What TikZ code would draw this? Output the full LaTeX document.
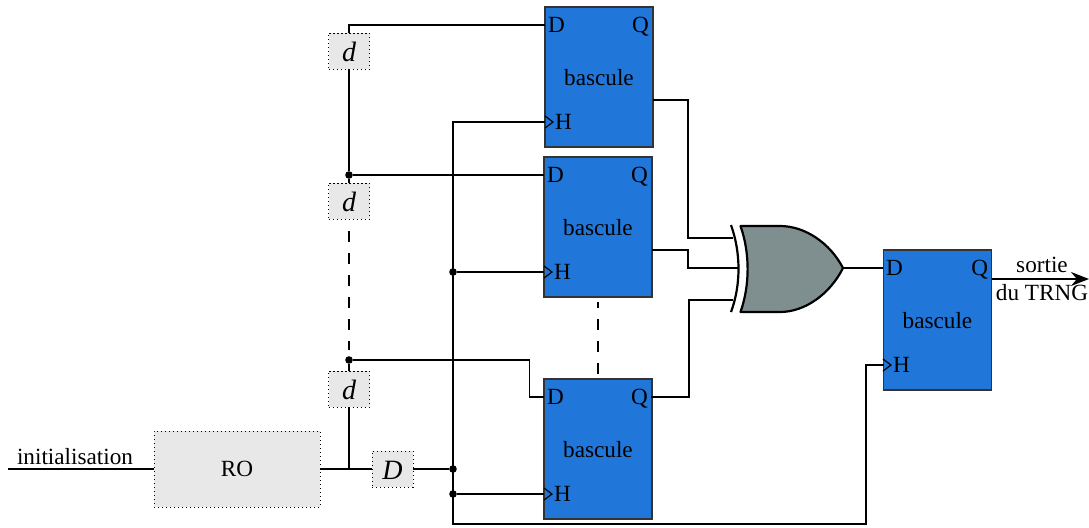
\documentclass[tikz,border=0pt]{standalone}
\usepackage{fontspec}
\usepackage{xcolor}
\usetikzlibrary{arrows.meta}
\setmainfont{Liberation Serif}
\definecolor{basculeBlue}{HTML}{2077D9}
\definecolor{gateGrey}{HTML}{7F8F8F}
\definecolor{delayGrey}{HTML}{E8E8E8}
\tikzset{
	bascule/.style={draw=black!80,fill=basculeBlue,minimum width=54pt,minimum height=70pt,outer sep=0pt,inner sep=0pt,text height=9pt},
	delay/.style={draw,line width=0.5pt,dash pattern=on 0.7pt off 1.3pt,fill=delayGrey,minimum width=20.5pt,minimum height=18pt,outer sep=0pt,inner sep=0pt,text height=10.5pt,font=\fontsize{14}{16}\selectfont\itshape},
	pinD/.style={anchor=west,inner sep=1.5pt,outer sep=0pt,text height=7.7pt,text depth=0pt},
	pinQ/.style={anchor=east,inner sep=1.5pt,outer sep=0pt,text height=7.7pt,text depth=0pt},
	dot/.style={circle,fill=black,minimum size=3.8pt,inner sep=0pt,outer sep=0pt},
	pointille/.style={dash pattern=on 5.5pt off 5.5pt},
}
\begin{document}
\begin{tikzpicture}[x=0.5pt,y=-0.5pt,line width=0.6pt,font=\fontsize{11.6}{13}\selectfont]
	\useasboundingbox (0,0) rectangle (1089,527);
	% bascules
	\node[bascule] (b1) at (599,77) {bascule};
	\node[bascule] (b2) at (598,227) {bascule};
	\node[bascule] (b3) at (598,449) {bascule};
	\node[bascule] (b4) at (937.5,320) {bascule};
	\node[pinD] (b1D) at (545,25) {D};
	\node[pinD] (b2D) at (544,175) {D};
	\node[pinD] (b3D) at (544,397) {D};
	\node[pinD] (b4D) at (883,268) {D};
	\node[pinQ] (b1Q) at (652,25) {Q};
	\node[pinQ] (b2Q) at (651,175) {Q};
	\node[pinQ] (b3Q) at (651,397) {Q};
	\node[pinQ] (b4Q) at (991,268) {Q};
	\node[pinD] (b1H) at (552,122) {H};
	\node[pinD] (b2H) at (551,272) {H};
	\node[pinD] (b3H) at (551,494) {H};
	\node[pinD] (b4H) at (890,365) {H};
	\draw (545,116) -- (553,122) -- (545,128);
	\draw (544,266) -- (552,272) -- (544,278);
	\draw (544,488) -- (552,494) -- (544,500);
	\draw (883,359) -- (891,365) -- (883,371);
	% retards et oscillateur
	\node[delay] (d1) at (349,51) {d};
	\node[delay] (d2) at (349,201) {d};
	\node[delay] (d3) at (349,389) {d};
	\node[delay] (D) at (392.5,469) {D};
	\node[delay,minimum width=83pt,minimum height=38pt,text height=8pt,font=\fontsize{11.6}{13}\selectfont] (RO) at (237,469) {RO};
	\coordinate (init) at (8,469);
	\node[above] (initText) at (75,472) {initialisation};
	\draw (init) -- (RO);
	% chaine de retards
	\node[dot] (j1) at (349,175) {};
	\node[dot] (j2) at (349,360) {};
	\coordinate (c0) at (349,25);
	\coordinate (c1) at (349,231);
	\coordinate (c2) at (349,350);
	\coordinate (c3) at (349,469);
	\draw (b1D.west) -- (c0) -- (d1);
	\draw (d1) -- (j1) -- (d2);
	\draw (j1) -- (b2D.west);
	\draw[pointille] (c1) -- (c2);
	\draw (j2) -- (d3);
	\draw (d3) -- (c3);
	\draw (j2) -| (529.5,397) -- (b3D.west);
	\draw (RO) -- (D);
	% horloge
	\node[dot] (h1) at (453,272) {};
	\node[dot] (h2) at (453,469) {};
	\node[dot] (h3) at (453,494) {};
	\coordinate (h0) at (453,122);
	\coordinate (h4) at (453,524);
	\coordinate (h5) at (866,524);
	\draw (D) -- (h2);
	\draw (b1.west |- b1H) -- (h0) -- (h4) -- (h5) |- (b4.west |- b4H);
	\draw (h1) -- (b2.west |- b2H);
	\draw (h3) -- (b3.west |- b3H);
	% porte
	\coordinate (g0) at (733,238);
	\coordinate (g1) at (738,268);
	\coordinate (g2) at (733,300);
	\coordinate (gout) at (843,268);
	\draw (b1.east |- 0,100) -| (688,238) -- (g0);
	\draw (b2.east |- 0,250) -| (688,268) -- (g1);
	\draw (b3Q.east) -| (689,300) -- (g2);
	\draw (gout) -- (b4D.west);
	\draw[fill=gateGrey,line width=1.1pt,line join=round] (740.5,226) -- (780,226) .. controls (805,226) and (830,243) .. (gout) .. controls (830,294) and (805,312) .. (780,312) -- (740.5,312) .. controls (750,285) and (750,253) .. (740.5,226) -- cycle;
	\draw[line width=1.1pt] (731,225) .. controls (741,253) and (741,285) .. (731,312);
	\coordinate (v0) at (598,302);
	\coordinate (v1) at (598,374);
	\draw[pointille,dash phase=2.5pt] (v0) -- (v1);
	% sortie
	\coordinate (out) at (1089,279);
	\draw[-{Stealth[length=9pt,width=7pt]},line width=0.9pt] (b4.east |- out) -- (out);
	\node (sortie) at (1042,265) {sortie};
	\node (trng) at (1042,293) {du TRNG};
\end{tikzpicture}
\end{document}
